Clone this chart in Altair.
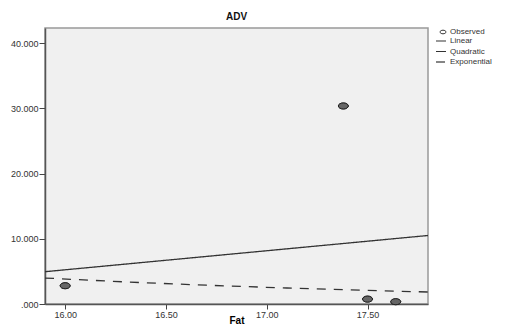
import altair as alt
import pandas as pd

# Observed data
fat = [16.00, 17.38, 17.50, 17.64]
adv = [2.8, 30.35, 0.75, 0.35]

# Fitted curves
lin_x = [15.90, 17.80]
lin_y = [4.95, 10.50]
exp_x = [15.90, 16.30, 16.70, 17.10, 17.50, 17.80]
exp_y = [3.98, 3.38, 2.88, 2.45, 2.08, 1.84]

series = ["Linear", "Quadratic", "Exponential"]
x_ticks = [16.0, 16.5, 17.0, 17.5]
y_ticks = [0, 10, 20, 30, 40]

FONT = "Liberation Sans"
ELLIPSE = "M -1 0 A 1 0.6 0 1 0 1 0 A 1 0.6 0 1 0 -1 0 Z"

obs = pd.DataFrame({"Fat": fat, "ADV": adv, "kind": ["Observed"] * len(fat)})
fits = pd.DataFrame({
    "Fat": lin_x + exp_x,
    "ADV": lin_y + exp_y,
    "series": ["Linear"] * len(lin_x) + ["Exponential"] * len(exp_x),
})

xs = alt.Scale(domain=[15.9, 17.8], nice=False, zero=False)
ys = alt.Scale(domain=[0, 42.3], nice=False, zero=False)

xax = alt.Axis(values=x_ticks, format=".2f", title="Fat", grid=False,
               titleFontWeight="bold", titleFontSize=10, titleFont=FONT,
               titleY=19, titleBaseline="alphabetic",
               labelFontSize=9, labelFont=FONT, labelColor="#333",
               tickSize=5, tickColor="#444", domainColor="#555", domainWidth=1.5,
               labelPadding=1)
yax = alt.Axis(values=y_ticks, labelExpr="datum.value == 0 ? '.000' : format(datum.value, '.3f')",
               title=None, grid=False, labelFontSize=9, labelFont=FONT, labelColor="#333",
               tickSize=6, tickColor="#444", domainColor="#555", domainWidth=1.5,
               labelPadding=1)

lines = alt.Chart(fits).mark_line(color="#333", strokeWidth=1.3).encode(
    x=alt.X("Fat:Q", scale=xs, axis=xax),
    y=alt.Y("ADV:Q", scale=ys, axis=yax),
    strokeDash=alt.StrokeDash(
        "series:N",
        scale=alt.Scale(domain=series, range=[[1, 0], [1, 0], [9, 8]]),
        legend=alt.Legend(title=None, orient="none", legendX=390, legendY=7,
                          symbolType="stroke", symbolSize=100, symbolStrokeColor="#333",
                          symbolStrokeWidth=1.2, labelFontSize=8, labelFont=FONT,
                          labelColor="#333", rowPadding=0.5, padding=0, labelOffset=3),
    ),
)

shape_scale = alt.Scale(domain=["Observed"], range=[ELLIPSE])

points_open = alt.Chart(obs).mark_point(filled=False, stroke="#222",
                                        strokeWidth=1, size=100, opacity=1).encode(
    x=alt.X("Fat:Q", scale=xs),
    y=alt.Y("ADV:Q", scale=ys),
    shape=alt.Shape(
        "kind:N",
        scale=shape_scale,
        legend=alt.Legend(title=None, orient="none", legendX=394, legendY=0,
                          symbolSize=36, symbolStrokeColor="#333",
                          symbolStrokeWidth=1, labelFontSize=8, labelFont=FONT,
                          labelColor="#333", padding=0, labelOffset=3),
    ),
)

points_fill = alt.Chart(obs).mark_point(filled=True, fill="#666", stroke="#222",
                                        strokeWidth=1, size=100, opacity=1).encode(
    x=alt.X("Fat:Q", scale=xs),
    y=alt.Y("ADV:Q", scale=ys),
    shape=alt.Shape("kind:N", scale=shape_scale),
)

chart = alt.layer(lines, points_open, points_fill).properties(
    width=383,
    height=276,
    title=alt.TitleParams("ADV", fontSize=10, fontWeight="bold", font=FONT, offset=6,
                          color="#111"),
    padding={"left": 37, "top": 20, "right": 70, "bottom": 20},
    autosize=alt.AutoSizeParams(type="none"),
).configure_view(
    fill="#f0f0f0", stroke="#999", strokeWidth=1.5
)

chart.save("out.html", embed_options={"renderer": "svg", "actions": False})
